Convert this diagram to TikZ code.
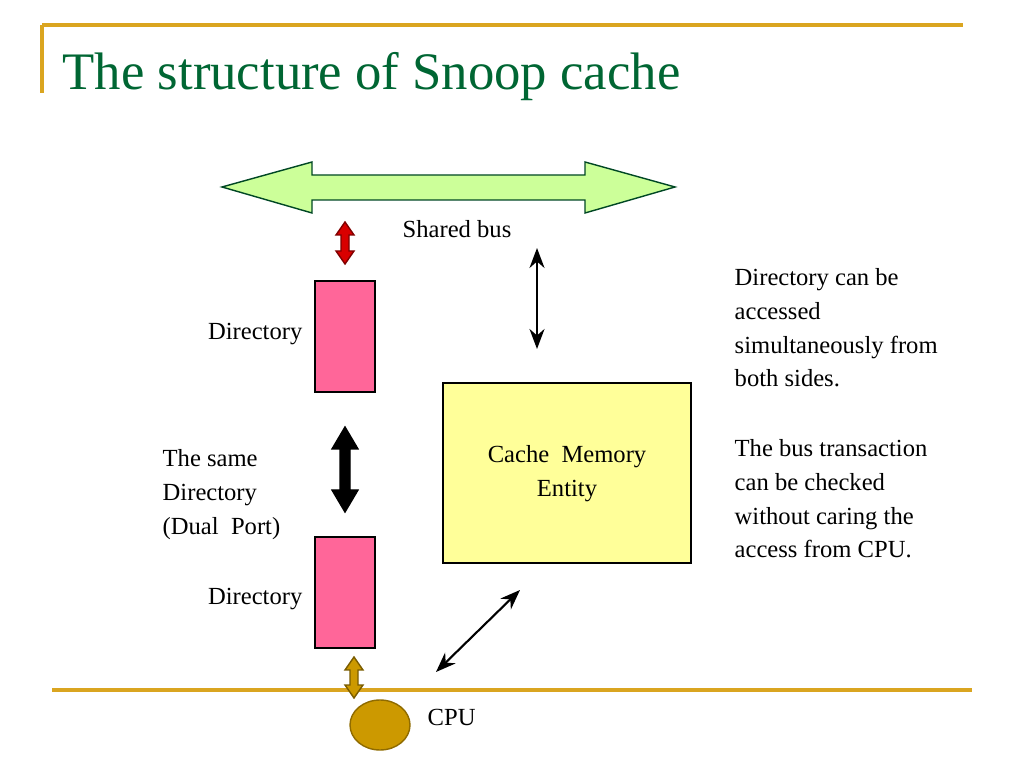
\documentclass[tikz,border=0pt]{standalone}
\usepackage{fontspec}
\setmainfont{Liberation Serif}
\usetikzlibrary{arrows.meta,shapes.geometric,positioning}
\definecolor{titlegreen}{RGB}{0,102,51}
\definecolor{rulegold}{RGB}{218,165,32}
\definecolor{buslime}{RGB}{204,255,153}
\definecolor{dirpink}{RGB}{255,102,153}
\definecolor{cacheyellow}{RGB}{255,255,153}
\definecolor{cpugold}{RGB}{204,153,0}
\newlength{\unitlen}\setlength{\unitlen}{0.1mm}
\tikzset{
  dir/.style={draw=black,fill=dirpink,minimum width=60\unitlen,minimum height=111\unitlen,inner sep=0pt},
  lbl/.style={font=\fontsize{7}{9.6}\selectfont,align=left,inner sep=0pt}
}
% vertical block double arrow: x, top, bottom, half shaft, half head, head length
\newcommand{\vdarr}[7]{%
  \draw[#7] (#1,#2) -- (#1+#5,#2+#6) -- (#1+#4,#2+#6) -- (#1+#4,#3-#6) -- (#1+#5,#3-#6)
    -- (#1,#3) -- (#1-#5,#3-#6) -- (#1-#4,#3-#6) -- (#1-#4,#2+#6) -- (#1-#5,#2+#6) -- cycle;}
\begin{document}
\begin{tikzpicture}[x=0.1mm,y=-0.1mm]
  \useasboundingbox (0,0) rectangle (1024,768);
  % frame lines
  \draw[rulegold,line width=1.2pt] (42,25) -- (963,25);
  \draw[rulegold,line width=1.2pt] (42,25) -- (42,93);
  \draw[rulegold,line width=1.2pt] (52,690) -- (972,690);
  \node[anchor=base west,text=titlegreen,font=\fontsize{15}{18}\selectfont,inner sep=0pt] (title) at (62,90) {The structure of Snoop cache};
  % shared bus
  \draw[draw=titlegreen!70!black,fill=buslime] (222,187) -- (312,162) -- (312,175) -- (585,175) -- (585,162) -- (675,187)
    -- (585,213) -- (585,200) -- (312,200) -- (312,213) -- cycle;
  \node[lbl,anchor=base west] (bus) at (402,238) {Shared bus};
  % directories
  \node[dir] (dirA) at (345,336.5) {};
  \node[dir] (dirB) at (345,592.5) {};
  \node[lbl,anchor=base east] (dirAl) at (303,340) {Directory};
  \node[lbl,anchor=base east] (dirBl) at (303,605) {Directory};
  \node[lbl,anchor=north west] (same) at (162,449) {The same\\Directory\\(Dual\ \ Port)};
  % small arrows
  \vdarr{345}{222}{264}{4}{9}{13}{fill=red!85!black,draw=red!50!black}
  \vdarr{345}{427}{512}{5}{13}{22}{fill=black}
  \vdarr{354}{657}{698}{4}{9}{13}{fill=cpugold,draw=cpugold!60!black}
  % cache
  \node[draw=black,fill=cacheyellow,minimum width=248\unitlen,minimum height=180\unitlen,inner sep=0pt] (cache) at (567,473) {};
  \node[lbl,align=center,anchor=north] (cachel) at (567,445) {Cache\ \ Memory\\Entity};
  % cpu
  \node[draw=cpugold!70!black,fill=cpugold,ellipse,minimum width=60\unitlen,minimum height=50\unitlen,inner sep=0pt] (cpu) at (380,725) {};
  \node[lbl,anchor=base west] (cpul) at (427,725) {CPU};
  \coordinate (busT) at (537,248);
  \coordinate (busB) at (537,349);
  \coordinate (cpuT) at (520,590);
  \coordinate (cpuB) at (436,672);
  \draw[Stealth-Stealth,line width=0.6pt] (busT) -- (busB);
  \draw[Stealth-Stealth,line width=0.6pt] (cpuT) -- (cpuB);
  % notes
  \node[lbl,anchor=north west] (note1) at (734,268) {Directory can be\\accessed\\simultaneously from\\both sides.};
  \node[lbl,anchor=north west] (note2) at (734,439) {The bus transaction\\can be checked\\without caring the\\access from CPU.};
\end{tikzpicture}
\end{document}
